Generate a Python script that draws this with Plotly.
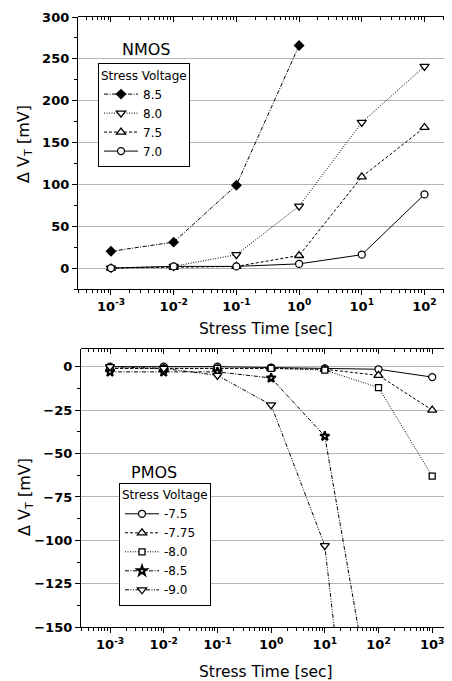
import plotly.graph_objects as go

# ---------------- data ----------------
n_time = [1e-3, 1e-2, 1e-1, 1e0, 1e1, 1e2]
n_labels = ["8.5", "8.0", "7.5", "7.0"]
n_85 = [20, 31, 99, 266]
n_80 = [0, 2, 16, 74, 174, 241]
n_75 = [0, 1, 2, 15, 109, 168]
n_70 = [0, 2, 2, 5, 16, 88]

p_time = [1e-3, 1e-2, 1e-1, 1e0, 1e1, 1e2, 1e3]
p_labels = ["-7.5", "-7.75", "-8.0", "-8.5", "-9.0"]
p_75 = [0, 0, 0, -0.5, -1, -1.5, -6]
p_775 = [-1, -1, -1, -1, -1.5, -5, -25]
p_80 = [-1, -1, -1, -1, -2, -12, -63]
p_85 = [-3, -3, -3, -6.5, -40, -217]
p_90 = [0, -1, -5, -22, -103, -374]

n_xticks = ["10<sup>-3</sup>", "10<sup>-2</sup>", "10<sup>-1</sup>", "10<sup>0</sup>", "10<sup>1</sup>", "10<sup>2</sup>"]
p_xticks = n_xticks + ["10<sup>3</sup>"]

FONT = "DejaVu Sans"
# the page body has an 8px margin, so the figure starts at (8, 8) in the window
OFF = 8
W, H = 452 - OFF, 681 - OFF

def px(x):
    return (x - OFF) / W

def py(y):
    return 1 - (y - OFF) / H

fig = go.Figure()

def mk(symbol, size=8, fill="white", lw=1.3):
    return dict(symbol=symbol, size=size, color=fill, line=dict(color="black", width=lw))

line_w = 1.0
n_series = [
    (n_85, n_labels[0], "4px,1.5px,1px,1.5px", mk("diamond", 7, "black")),
    (n_80, n_labels[1], "1px,1.5px", mk("triangle-down", 8)),
    (n_75, n_labels[2], "3px,2px", mk("triangle-up", 8)),
    (n_70, n_labels[3], "solid", mk("circle", 7)),
]
for vals, name, dash, marker in n_series:
    fig.add_trace(go.Scatter(x=n_time[:len(vals)], y=vals, name=name, mode="lines+markers",
                             line=dict(color="black", width=line_w, dash=dash), marker=marker,
                             xaxis="x", yaxis="y", legend="legend"))

p_series = [
    (p_75, p_labels[0], "solid", mk("circle", 7)),
    (p_775, p_labels[1], "3px,2px", mk("triangle-up", 8)),
    (p_80, p_labels[2], "1px,1.5px", mk("square", 6)),
    (p_85, p_labels[3], "4px,1.5px,1px,1.5px", mk("star", 7, "white", 2)),
    (p_90, p_labels[4], "4px,1.5px,1px,1.5px,1px,1.5px", mk("triangle-down", 8)),
]
for vals, name, dash, marker in p_series:
    fig.add_trace(go.Scatter(x=p_time[:len(vals)], y=vals, name=name, mode="lines+markers",
                             line=dict(color="black", width=line_w, dash=dash), marker=marker,
                             xaxis="x2", yaxis="y2", legend="legend2"))

# invisible traces so the mirrored (inside-tick) axes get drawn
for xa, ya in [("x3", "y3"), ("x4", "y4")]:
    fig.add_trace(go.Scatter(x=[1], y=[0], mode="markers", marker=dict(opacity=0),
                             xaxis=xa, yaxis=ya, showlegend=False, hoverinfo="skip"))

tickfont = dict(family=FONT, size=13, color="black", weight="bold")
grid_c = "#b4b4b4"

def xax(domain, rng, anchor, ticks):
    vals = [10 ** k for k in range(-3, -3 + len(ticks))]
    return dict(type="log", domain=domain, range=rng, anchor=anchor, automargin=False,
                tickmode="array", tickvals=vals, ticktext=ticks,
                showgrid=False, zeroline=False,
                showline=True, linecolor="black", linewidth=1.3,
                ticks="outside", ticklen=5, tickwidth=1, tickcolor="black",
                minor=dict(ticks="outside", ticklen=3, tickwidth=1, tickcolor="black", dtick="D1", showgrid=False),
                tickfont=tickfont)

def yax(domain, rng, anchor, dtick, mdtick):
    return dict(domain=domain, range=rng, anchor=anchor, dtick=dtick, tick0=0, automargin=False,
                showgrid=True, gridcolor=grid_c, gridwidth=1, zeroline=False,
                showline=True, linecolor="black", linewidth=1.3,
                ticks="outside", ticklen=5, tickwidth=1, tickcolor="black",
                minor=dict(ticks="outside", ticklen=3, tickwidth=1, tickcolor="black", dtick=mdtick, tick0=0, showgrid=False),
                tickfont=tickfont)

top_xd = [px(78), px(451)]
top_yd = [py(289), py(17)]
bot_xd = [px(81), px(451)]
bot_yd = [py(627.3), py(349.3)]
top_xr = [-3.526, 2.423]
bot_xr = [-3.54, 3.35]

def mirror_x(rng, domain, anchor):
    return dict(type="log", range=rng, domain=domain, anchor=anchor, side="top", dtick=1,
                automargin=False, showticklabels=False, showgrid=False, zeroline=False, showline=True,
                linecolor="black", linewidth=1.3, ticks="inside", ticklen=5, tickcolor="black",
                minor=dict(ticks="inside", ticklen=3, tickcolor="black", dtick="D1"))

def mirror_y(rng, domain, anchor, dtick, mdtick):
    return dict(range=rng, domain=domain, anchor=anchor, side="right", dtick=dtick, tick0=0,
                automargin=False, showticklabels=False, showgrid=False, zeroline=False, showline=True,
                linecolor="black", linewidth=1.3, ticks="inside", ticklen=5, tickcolor="black",
                minor=dict(ticks="inside", ticklen=3, tickcolor="black", dtick=mdtick, tick0=0))

def ann(text, x, y, size, angle=0):
    return dict(text=text, x=px(x), y=py(y), xref="paper", yref="paper", xanchor="center",
                yanchor="middle", showarrow=False, textangle=angle,
                font=dict(family=FONT, size=size, color="black"))

legfont = dict(family=FONT, size=12, color="black")
fig.update_layout(
    width=W, height=H, margin=dict(l=0, r=0, t=0, b=0, autoexpand=False),
    paper_bgcolor="white", plot_bgcolor="rgba(0,0,0,0)", showlegend=True,
    xaxis=xax(top_xd, top_xr, "y", n_xticks),
    yaxis=yax(top_yd, [-25, 300], "x", 50, 25),
    xaxis2=xax(bot_xd, bot_xr, "y2", p_xticks),
    yaxis2=yax(bot_yd, [-150, 10], "x2", 25, 12.5),
    xaxis3=mirror_x(top_xr, top_xd, "y3"),
    yaxis3=mirror_y([-25, 300], top_yd, "x3", 50, 25),
    xaxis4=mirror_x(bot_xr, bot_xd, "y4"),
    yaxis4=mirror_y([-150, 10], bot_yd, "x4", 25, 12.5),
    legend=dict(x=px(98), y=py(63), xanchor="left", yanchor="top", itemwidth=34,
                bordercolor="black", borderwidth=1, bgcolor="white", font=legfont,
                title=dict(text="Stress Voltage", font=legfont), tracegroupgap=0),
    legend2=dict(x=px(119), y=py(482.7), xanchor="left", yanchor="top", itemwidth=34,
                 bordercolor="black", borderwidth=1, bgcolor="white", font=legfont,
                 title=dict(text="Stress Voltage", font=legfont), tracegroupgap=0),
    annotations=[
        ann("NMOS", 146, 49, 16),
        ann("PMOS", 154, 472, 16),
        ann("Stress Time [sec]", 266, 329, 15.5),
        ann("Stress Time [sec]", 266, 672, 15.5),
        ann("Δ V<sub>T</sub> [mV]", 25, 144, 16, -90),
        ann("Δ V<sub>T</sub> [mV]", 25, 497, 16, -90),
    ],
)

fig.write_html("out.html")
